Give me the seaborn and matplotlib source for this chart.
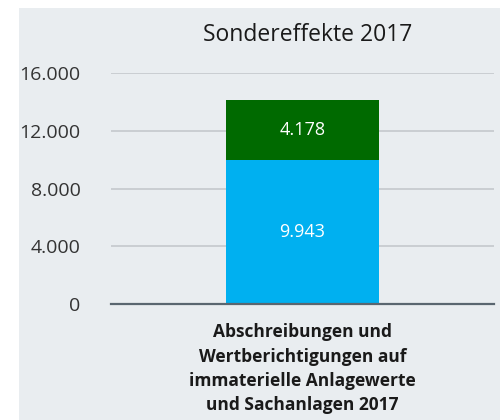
import matplotlib
matplotlib.use("Agg")
import matplotlib.pyplot as plt
import seaborn as sns
import pandas as pd
from matplotlib.patches import Rectangle

# data
category = ["Abschreibungen und\nWertberichtigungen auf\nimmaterielle Anlagewerte\nund Sachanlagen 2017"]
lower_values = [9943]   # blue part
upper_values = [4178]   # green part
tick_values = [0, 4000, 8000, 12000, 16000]
tick_labels = ["0", "4.000", "8.000", "12.000", "16.000"]
title = "Sondereffekte 2017"

bg = "#e9edf0"
blue = "#00b0f0"
green = "#006a00"

sns.set_theme(style="white")
plt.rcParams["font.family"] = ["Open Sans", "DejaVu Sans"]

df = pd.DataFrame({"cat": category, "lower": lower_values, "upper": upper_values})
df["total"] = df["lower"] + df["upper"]

fig = plt.figure(figsize=(5, 4.2), dpi=100, facecolor="white")
# grey panel behind everything, white margin on left and top
fig.patches.append(Rectangle((19 / 500, 0), 1 - 19 / 500, 1 - 8 / 420,
                             transform=fig.transFigure, facecolor=bg,
                             edgecolor="none", zorder=-10))

ax = fig.add_axes([111 / 500, 1 - 304 / 420, 383 / 500, 231 / 420])
ax.set_facecolor(bg)

# stacked bar: total (green) first, then the blue part on top of it
sns.barplot(data=df, x="cat", y="total", color=green, saturation=1, width=0.8,
            linewidth=0, ax=ax, zorder=3)
sns.barplot(data=df, x="cat", y="lower", color=blue, saturation=1, width=0.8,
            linewidth=0, ax=ax, zorder=4)

for i, row in df.iterrows():
    ax.text(i, row["lower"] / 2, f"{row['lower']:,}".replace(",", "."),
            ha="center", va="center", color="white", fontsize=13, zorder=5)
    ax.text(i, row["lower"] + row["upper"] / 2, f"{row['upper']:,}".replace(",", "."),
            ha="center", va="center", color="white", fontsize=13, zorder=5)

ax.set_xlim(-1, 1)
ax.set_ylim(0, 16000)
ax.set_yticks(tick_values)
ax.set_yticklabels(tick_labels)
ax.yaxis.grid(True, color="#c4c8cc", linewidth=1.2, zorder=0)
ax.set_axisbelow(True)
for s in ["top", "right", "left"]:
    ax.spines[s].set_visible(False)
ax.spines["bottom"].set_color("#5a6670")
ax.spines["bottom"].set_linewidth(1.6)
ax.spines["bottom"].set_zorder(6)
ax.tick_params(axis="y", length=0, pad=22, labelsize=14, labelcolor="#333333")
ax.tick_params(axis="x", length=0, pad=14)
ax.set_xticks([0])
ax.set_xticklabels(category, fontsize=12.5, fontweight="bold", color="#1a1a1a",
                   linespacing=1.45, va="top", ha="center")
ax.set_xlabel("")
ax.set_ylabel("")

fig.text(308 / 500, 1 - 35 / 420, title, ha="center", va="center",
         fontsize=16.5, color="#1a1a1a")

fig.savefig("out.png", dpi=100, facecolor=fig.get_facecolor())
